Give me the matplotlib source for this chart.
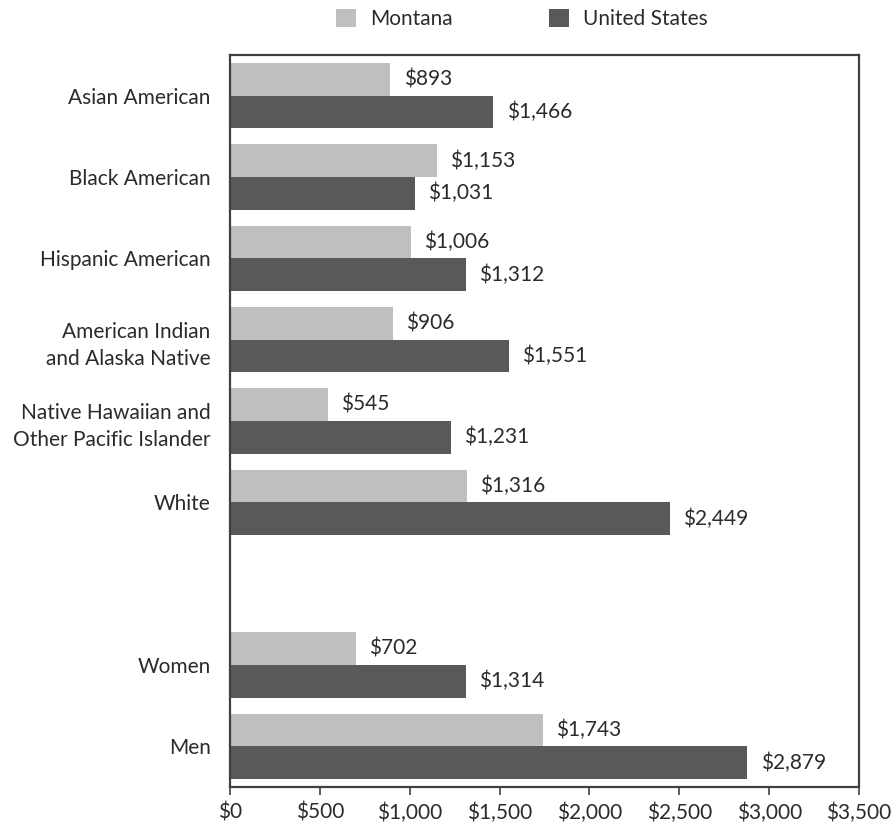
import matplotlib
matplotlib.use("Agg")
import matplotlib.pyplot as plt
from matplotlib.ticker import FuncFormatter, MultipleLocator
from matplotlib.patches import Patch

categories = [
    "Asian American",
    "Black American",
    "Hispanic American",
    "American Indian\nand Alaska Native",
    "Native Hawaiian and\nOther Pacific Islander",
    "White",
    "",
    "Women",
    "Men",
]
montana = [893, 1153, 1006, 906, 545, 1316, None, 702, 1743]
united_states = [1466, 1031, 1312, 1551, 1231, 2449, None, 1314, 2879]
series_names = ["Montana", "United States"]

plt.rcParams["font.family"] = ["Lato", "DejaVu Sans"]

mt_color = "#bfbfbf"
us_color = "#595959"
text_color = "#2b2b2b"
fs = 15

fig = plt.figure(figsize=(8.91, 8.31), dpi=100)
ax = fig.add_axes([230 / 891, 1 - 787 / 831, (859 - 230) / 891, (787 - 55) / 831])

h = 0.4
for i, (m, u) in enumerate(zip(montana, united_states)):
    if m is None:
        continue
    ax.barh(i - h / 2, m, height=h, color=mt_color, edgecolor="none")
    ax.barh(i + h / 2, u, height=h, color=us_color, edgecolor="none")
    ax.annotate(f"${m:,}", (m, i - h / 2), xytext=(9.5, 0), textcoords="offset points",
                va="center", ha="left", fontsize=fs, color=text_color)
    ax.annotate(f"${u:,}", (u, i + h / 2), xytext=(9.5, 0), textcoords="offset points",
                va="center", ha="left", fontsize=fs, color=text_color)

ax.set_xlim(0, 3500)
ax.set_ylim(len(categories) - 0.5, -0.5)
ax.xaxis.set_major_locator(MultipleLocator(500))
ax.xaxis.set_major_formatter(FuncFormatter(lambda v, p: f"${v:,.0f}"))
ax.set_yticks(range(len(categories)))
ax.set_yticklabels(categories, fontsize=fs, color=text_color, linespacing=1.45)
ax.tick_params(axis="y", length=0, pad=14)
ax.tick_params(axis="x", length=6, width=1.2, color="#404040", labelsize=fs,
               labelcolor=text_color, pad=5)
for s in ax.spines.values():
    s.set_color("#404040")
    s.set_linewidth(1.6)

handles = [Patch(facecolor=mt_color, edgecolor="none"), Patch(facecolor=us_color, edgecolor="none")]
fig.legend(handles, series_names, loc="center", bbox_to_anchor=(522 / 891, 1 - 19 / 831),
           ncol=2, frameon=False, fontsize=fs, handlelength=0.95, handleheight=0.95,
           columnspacing=4.6, handletextpad=0.7, labelcolor=text_color)

fig.savefig("out.png", dpi=100, facecolor="white")
